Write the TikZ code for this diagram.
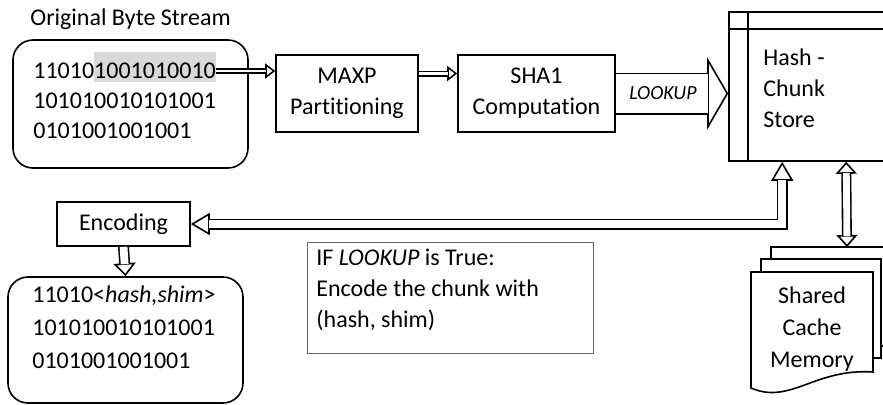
\documentclass[tikz,border=0pt]{standalone}
\usepackage{fontspec}
\setmainfont{Carlito}[Ligatures=NoCommon]
\usetikzlibrary{arrows.meta}
\definecolor{hlgray}{HTML}{D9D9D9}
\newcommand{\hlbits}[1]{{\setlength{\fboxsep}{0pt}\colorbox{hlgray}{\rule[-2pt]{0pt}{15pt}#1}}}
\tikzset{
  box/.style={draw, line width=0.8pt, align=center, inner sep=0pt},
  roundbox/.style={draw, line width=0.8pt, rounded corners=10pt, inner sep=0pt},
  txt/.style={inner sep=0pt, align=left},
  fatarrow/.style n args={3}{line width=0.8pt,
    -{Triangle[open, fill=white, length=#2, width=#3]},
    postaction={draw, -, double, double distance=#1, shorten >=#2-0.5pt}},
  fatboth/.style n args={3}{line width=0.8pt,
    {Triangle[open, fill=white, length=#2, width=#3]}-{Triangle[open, fill=white, length=#2, width=#3]},
    postaction={draw, -, double, double distance=#1, shorten <=#2-0.5pt, shorten >=#2-0.5pt}}
}
\begin{document}
\begin{tikzpicture}[x=0.5pt, y=-0.5pt, font=\fontsize{12}{15.5}\selectfont]
  \useasboundingbox (0,0) rectangle (883,404);

  % input stream
  \node[txt, anchor=base west] (title) at (30,25) {Original Byte Stream};
  \node[roundbox, minimum width=117.5pt, minimum height=64pt] (stream) at (130.5,104) {};
  \node[txt, anchor=base west] (bits1) at (33,78) {11010\hlbits{1001010010}};
  \node[txt, anchor=base west] (bits2) at (33,108) {101010010101001};
  \node[txt, anchor=base west] (bits3) at (33,138) {0101001001001};
  \coordinate (bitsend) at ([yshift=-2pt]bits1.east);

  \node[box, minimum width=71pt, minimum height=38.5pt] (maxp) at (347,93.5) {MAXP\\Partitioning};
  \node[box, minimum width=78.5pt, minimum height=38.5pt] (sha) at (536.5,93.5) {SHA1\\Computation};

  % store
  \node[box, minimum width=85.5pt, minimum height=74.5pt] (store) at (814.5,86.5) {};
  \draw[line width=0.8pt] ([xshift=10pt]store.north west) -- ([xshift=10pt]store.south west);
  \draw[line width=0.8pt] ([yshift=-9pt]store.north west) -- ([yshift=-9pt]store.north east);
  \node[txt, anchor=north west] (storelbl) at (763,48) {Hash -\\Chunk\\Store};

  % output stream
  \node[box, minimum width=66.5pt, minimum height=22pt] (enc) at (123.5,224) {Encoding};
  \node[roundbox, minimum width=117.5pt, minimum height=63pt] (result) at (125.5,340) {};
  \node[txt, anchor=base west] (out1) at (32,302) {11010<\textit{hash,shim}>};
  \node[txt, anchor=base west] (out2) at (32,335) {101010010101001};
  \node[txt, anchor=base west] (out3) at (32,368) {0101001001001};

  \node[draw=black!60, line width=0.5pt, minimum width=143pt, minimum height=55.5pt, inner sep=0pt] (cond) at (450,297.5) {};
  \node[txt, anchor=north west] (condlbl) at (316,249) {IF \textit{LOOKUP} is True:\\Encode the chunk with\\(hash, shim)};

  % cache
  \draw[line width=0.8pt, fill=white] (771,247) rectangle (895,346);
  \draw[line width=0.8pt, fill=white] (761,259) rectangle (881,358);
  \draw[line width=0.8pt, fill=white] (751,272) -- (873,272) -- (873,372)
    .. controls (815,368) and (790,405) .. (751,388) -- cycle;
  \node[txt, align=center, font=\fontsize{12}{16}\selectfont] (cachelbl) at (812,329) {Shared\\Cache\\Memory};
  \coordinate (cachetop) at (847,247);

  % arrows
  \draw[fatarrow={1.4pt}{5pt}{7.5pt}] (bitsend) -- (bitsend -| maxp.west);
  \draw[fatarrow={1.4pt}{5pt}{7.5pt}] ([yshift=10pt]maxp.east) -- ([yshift=10pt]sha.west);
  \draw[fatarrow={19.4pt}{10.5pt}{36pt}] (sha.east) -- (sha.east -| store.west)
    node[pos=0.42, font=\itshape\fontsize{10}{12}\selectfont] (lookup) {LOOKUP};
  \draw[fatboth={3.9pt}{9.5pt}{11pt}] ([xshift=27pt]store.south west) |- (enc.east);
  \draw[fatarrow={3.9pt}{6.5pt}{11pt}] (enc.south) -- (result.north);
  \draw[fatboth={3.4pt}{6pt}{10.5pt}] ([xshift=59pt]store.south west) -- (cachetop);
\end{tikzpicture}
\end{document}
